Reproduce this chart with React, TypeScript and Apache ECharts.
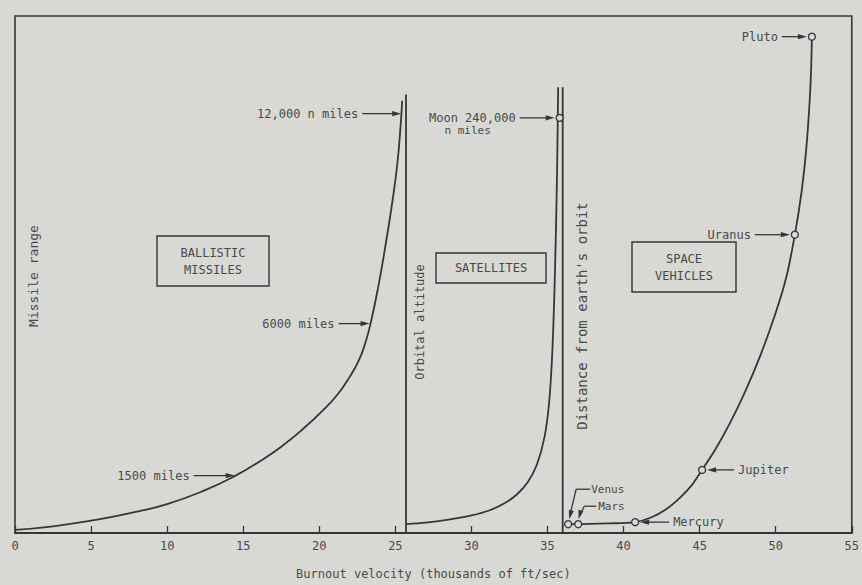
import React, { useEffect, useRef } from "react";
import * as echarts from "echarts";

const BG = "#d8d8d4";
const INK = "#363636";
const TEXT = "#4a4a4a";
const FONT = '"DejaVu Sans Mono", "Liberation Mono", monospace';

// x: burnout velocity (thousands of ft/sec); y: relative height on the chart (0-100, unlabeled)
const missileCurve: number[][] = [
  [0, 0.6], [2.5, 1.3], [5, 2.4], [7.5, 3.8], [10, 5.6], [12.5, 8.3],
  [14.5, 11.1], [16.0, 13.7], [17.5, 16.7], [19.0, 20.3], [20.2, 23.6],
  [21.2, 26.8], [22.0, 30.2], [22.6, 33.4], [23.0, 36.5], [23.37, 40.5],
  [23.9, 48], [24.4, 56.5], [24.85, 65], [25.15, 72], [25.35, 79], [25.45, 83.6],
];
const missileLimit: number[][] = [[25.7, 0], [25.7, 84.8]];

const satelliteCurve: number[][] = [
  [25.7, 1.7], [27, 2.0], [28.5, 2.6], [30, 3.4], [31.2, 4.4], [32.2, 5.8],
  [33, 7.5], [33.7, 9.8], [34.3, 13.2], [34.8, 18.5], [35.1, 25], [35.3, 34],
  [35.45, 46], [35.55, 58], [35.63, 70], [35.7, 86.2],
];
const satelliteLimit: number[][] = [[36.0, 0], [36.0, 86.2]];

const planetNames = ["Venus", "Mars", "Mercury", "Jupiter", "Uranus", "Pluto"];
const planetVelocity = [36.36, 37.02, 40.76, 45.16, 51.26, 52.38];
const planetDistance = [1.7, 1.7, 2.1, 12.2, 57.7, 96.0];

const spaceCurve: number[][] = [
  [36.36, 1.7], [37.02, 1.7], [39, 1.85], [40.76, 2.1], [41.8, 3.0], [42.8, 4.6],
  [43.7, 6.8], [44.5, 9.3], [45.16, 12.2], [46.0, 16.0], [47.0, 21.3],
  [48.0, 27.4], [49.0, 34.4], [50.0, 42.6], [50.7, 49.5], [51.26, 57.7],
  [51.7, 66], [52.0, 74], [52.2, 82], [52.32, 89], [52.38, 96.0],
];

const moonPoint: number[] = [35.8, 80.3];

const pointerLabels = ["12,000 n miles", "6000 miles", "1500 miles", "Moon 240,000", "Pluto", "Uranus", "Jupiter", "Mercury"];
const pointerTargets: number[][] = [
  [25.45, 81.1], [23.37, 40.5], [14.5, 11.1], moonPoint,
  [52.38, 96.0], [51.26, 57.7], [45.16, 12.2], [40.76, 2.1],
];

export default function App() {
  const ref = useRef<HTMLDivElement>(null);

  useEffect(() => {
    document.body.style.margin = "0";
    document.body.style.background = BG;
    if (!ref.current) return;
    const chart = echarts.init(ref.current, undefined, { renderer: "svg" });

    const lineStyle = { color: INK, width: 1.8 };
    const lineSeries = (name: string, data: number[][], smooth: number | boolean) => ({
      name,
      type: "line",
      data,
      smooth,
      showSymbol: false,
      symbol: "none",
      lineStyle,
      silent: true,
      z: 2,
    });

    const markers = planetNames.map((n, i) => ({ name: n, value: [planetVelocity[i], planetDistance[i]] }));
    markers.push({ name: "Moon", value: moonPoint });

    chart.setOption({
      animation: false,
      backgroundColor: BG,
      grid: {
        left: 15, right: 10, top: 16, bottom: 49,
        show: true, borderColor: INK, borderWidth: 1.6, backgroundColor: "transparent",
      },
      xAxis: {
        type: "value",
        min: 0, max: 55, interval: 5,
        axisLine: { show: true, lineStyle: { color: INK, width: 1.8 } },
        axisTick: { show: true, inside: true, length: 7, lineStyle: { color: INK, width: 1.3 } },
        axisLabel: { color: TEXT, fontFamily: FONT, fontSize: 12, margin: 7 },
        splitLine: { show: false },
        name: "Burnout velocity (thousands of ft/sec)",
        nameLocation: "middle",
        nameGap: 35,
        nameTextStyle: { color: TEXT, fontFamily: FONT, fontSize: 12 },
      },
      yAxis: { type: "value", min: 0, max: 100, show: false },
      series: [
        lineSeries("Ballistic missiles", missileCurve, 0.5),
        lineSeries("Missile limit", missileLimit, false),
        lineSeries("Satellites", satelliteCurve, 0.3),
        lineSeries("Satellite limit", satelliteLimit, false),
        lineSeries("Space vehicles", spaceCurve, 0.3),
        {
          name: "Bodies",
          type: "scatter",
          data: markers,
          symbol: "circle",
          symbolSize: 7,
          itemStyle: { color: BG, borderColor: INK, borderWidth: 1.3, opacity: 1 },
          z: 5,
          silent: true,
        },
      ],
    });

    const toPx = (p: number[]) => chart.convertToPixel({ gridIndex: 0 }, p) as number[];
    const els: any[] = [];
    const txt = (x: number, y: number, text: string, align: string, vAlign = "middle", size = 12, rotation = 0) => ({
      type: "text",
      x, y, rotation,
      z: 10,
      style: {
        text, fill: TEXT, font: `${size}px ${FONT}`,
        align, textAlign: align, verticalAlign: vAlign, textVerticalAlign: vAlign,
      },
    });
    const seg = (x1: number, y1: number, x2: number, y2: number) => ({
      type: "line", z: 10, shape: { x1, y1, x2, y2 }, style: { stroke: INK, lineWidth: 1.3 },
    });
    const head = (tx: number, ty: number, dx: number, dy: number) => {
      const len = Math.hypot(dx, dy);
      const ux = dx / len, uy = dy / len;
      const bx = tx - ux * 9, by = ty - uy * 9;
      return {
        type: "polygon", z: 10,
        shape: { points: [[tx, ty], [bx - uy * 2.6, by + ux * 2.6], [bx + uy * 2.6, by - ux * 2.6]] },
        style: { fill: INK },
      };
    };

    const lens = [40, 32, 42, 40, 30, 40, 32, 34];
    const sides = ["left", "left", "left", "left", "left", "left", "right", "right"];
    const gaps = [1, 1, 1, 5, 5, 5, 5, 5];
    pointerLabels.forEach((label, i) => {
      const [px, py] = toPx(pointerTargets[i]);
      const g = gaps[i];
      if (sides[i] === "left") {
        const tip = px - g, start = px - lens[i];
        els.push(seg(start, py, tip - 6, py), head(tip, py, 1, 0));
        els.push(txt(start - 4, py, label, "right"));
        if (i === 3) els.push(txt(start - 52, py + 13, "n miles", "center", "middle", 11));
      } else {
        const tip = px + g, end = px + lens[i];
        els.push(seg(tip + 6, py, end, py), head(tip, py, -1, 0));
        els.push(txt(end + 4, py, label, "left"));
      }
    });

    // Venus and Mars leaders
    const [vx, vy] = toPx([planetVelocity[0], planetDistance[0]]);
    els.push(seg(vx + 2, vy - 10, vx + 8, vy - 35), seg(vx + 8, vy - 35, vx + 22, vy - 35));
    els.push(head(vx + 1, vy - 5, -2, 8));
    els.push(txt(vx + 23, vy - 35, "Venus", "left", "middle", 11));
    const [mx, my] = toPx([planetVelocity[1], planetDistance[1]]);
    els.push(seg(mx + 2, my - 9, mx + 6, my - 18), seg(mx + 6, my - 18, mx + 18, my - 18));
    els.push(head(mx + 0.5, my - 5, -1.5, 6));
    els.push(txt(mx + 20, my - 18, "Mars", "left", "middle", 11));

    // Region boxes
    const box = (x: number, y: number, w: number, h: number, lines: string[]) => {
      els.push({
        type: "rect", z: 9, shape: { x, y, width: w, height: h },
        style: { fill: "transparent", stroke: INK, lineWidth: 1.4 },
      });
      const lh = 17;
      const y0 = y + h / 2 - ((lines.length - 1) * lh) / 2;
      lines.forEach((l, k) => els.push(txt(x + w / 2, y0 + k * lh, l, "center", "middle", 12)));
    };
    box(157, 236, 112, 50, ["BALLISTIC", "MISSILES"]);
    box(436, 253, 110, 30, ["SATELLITES"]);
    box(632, 242, 104, 50, ["SPACE", "VEHICLES"]);

    // Vertical captions
    els.push(txt(33, 276, "Missile range", "center", "middle", 13, Math.PI / 2));
    els.push(txt(420, 322, "Orbital altitude", "center", "middle", 12, Math.PI / 2));
    els.push(txt(582, 316, "Distance from earth's orbit", "center", "middle", 14, Math.PI / 2));

    chart.setOption({ graphic: { elements: els } });

    return () => chart.dispose();
  }, []);

  return <div ref={ref} style={{ width: 862, height: 585, background: BG }} />;
}
